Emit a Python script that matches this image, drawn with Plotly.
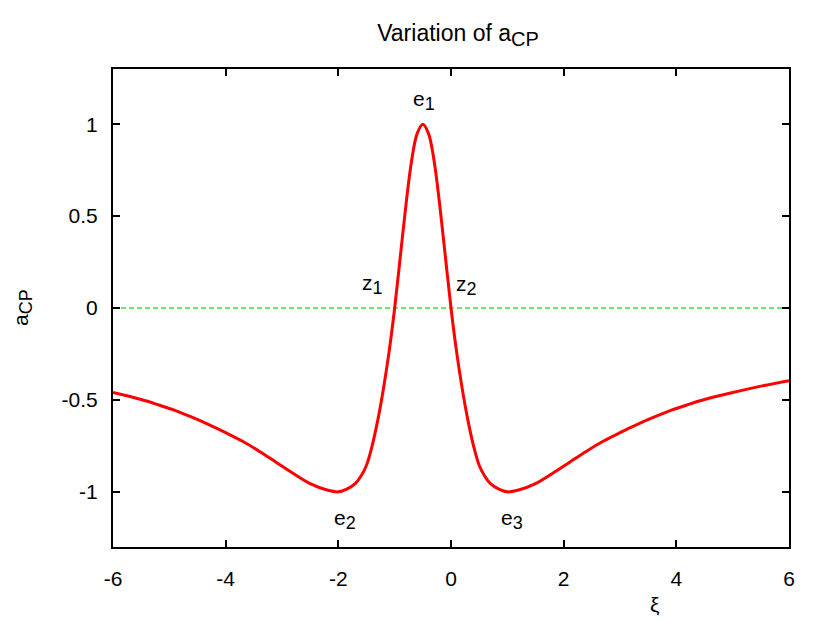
import plotly.graph_objects as go

# values
xi = [-6.0, -5.5, -5.2, -4.9, -4.6, -4.3, -4.0, -3.7, -3.4, -3.1, -2.8, -2.5,
      -2.2, -2.0, -1.85, -1.7, -1.6, -1.5, -1.4, -1.3, -1.2, -1.1, -1.0,
      -0.9, -0.8, -0.7, -0.6, -0.5,
      -0.4, -0.3, -0.2, -0.1, 0.0, 0.1, 0.2, 0.3, 0.4, 0.5, 0.6, 0.7, 0.85, 1.0,
      1.2, 1.5, 1.8, 2.1, 2.4, 2.7, 3.0, 3.3, 3.6, 3.9, 4.2, 4.5, 5.0, 5.5, 6.0]
a_cp = [-0.46, -0.498, -0.526, -0.557, -0.594, -0.634, -0.678, -0.725, -0.78, -0.84, -0.90, -0.955,
        -0.99, -1.0, -0.985, -0.955, -0.915, -0.855, -0.75, -0.61, -0.44, -0.24, 0.0,
        0.28, 0.56, 0.80, 0.95, 1.0,
        0.95, 0.80, 0.56, 0.28, 0.0, -0.24, -0.44, -0.61, -0.75, -0.855, -0.915, -0.955, -0.985, -1.0,
        -0.99, -0.955, -0.90, -0.84, -0.78, -0.725, -0.678, -0.634, -0.594, -0.557, -0.526, -0.498,
        -0.46, -0.425, -0.395]

zero_x = [-6, 6]
zero_y = [0, 0]

x_ticks = [-6, -4, -2, 0, 2, 4, 6]
x_labels = ["-6", "-4", "-2", "0", "2", "4", "6"]
y_ticks = [-1, -0.5, 0, 0.5, 1]
y_labels = ["-1", "-0.5", "0", "0.5", "1"]

# point labels: letter, index, x, y
pt_base = ["e", "e", "e", "z", "z"]
pt_idx = ["1", "2", "3", "1", "2"]
pt_x = [-0.48, -1.88, 1.08, -1.40, 0.27]
pt_y = [1.13, -1.15, -1.15, 0.13, 0.12]

fnt = "Liberation Sans, Arial, sans-serif"
fs = 21


def subtxt(base, sub, size):
    return base + "<sub><span style='font-size:%dpx'>%s</span></sub>" % (size, sub)


fig = go.Figure()
fig.add_trace(go.Scatter(x=zero_x, y=zero_y, mode='lines',
                         line=dict(color='#3fe03f', width=1.5, dash='5px,3px'),
                         showlegend=False, hoverinfo='skip'))
fig.add_trace(go.Scatter(x=xi, y=a_cp, mode='lines',
                         line=dict(color='#ff0000', width=3, shape='spline', smoothing=1),
                         showlegend=False))

for b, s, px, py in zip(pt_base, pt_idx, pt_x, pt_y):
    fig.add_annotation(x=px, y=py, xref='x', yref='y', text=subtxt(b, s, 18), showarrow=False,
                       font=dict(size=fs, color='black', family=fnt))

# axis titles (page is drawn 8px in from the window corner)
fig.add_annotation(x=(14 - 105) / 676, xref='paper', y=0.5, yref='paper', text=subtxt("a", "CP", 18),
                   showarrow=False, textangle=-90, xanchor='center', yanchor='middle',
                   font=dict(size=fs, color='black', family=fnt))
fig.add_annotation(x=3.62, xref='x', y=-0.121, yref='paper', text="ξ",
                   showarrow=False, xanchor='center', yanchor='middle',
                   font=dict(size=fs, color='black', family=fnt))

axis_common = dict(showline=True, linecolor='black', linewidth=2, mirror='allticks',
                   ticks='inside', ticklen=7, tickwidth=1.5, tickcolor='black',
                   showgrid=False, zeroline=False,
                   tickfont=dict(size=fs, color='black', family=fnt))

fig.update_xaxes(range=[-6, 6], tickvals=x_ticks, ticktext=x_labels,
                 ticklabelstandoff=12, **axis_common)
fig.update_yaxes(range=[-1.3, 1.3], tickvals=y_ticks, ticktext=y_labels,
                 ticklabelstandoff=9, **axis_common)

fig.update_layout(
    width=822, height=613,
    margin=dict(l=105, r=41, t=61, b=74),
    paper_bgcolor='white', plot_bgcolor='white',
    title=dict(text=subtxt("Variation of a", "CP", 20),
               x=450 / 822, xanchor='center',
               y=1 - 25 / 613, yref='container', yanchor='middle',
               font=dict(size=23, color='black', family=fnt)),
    showlegend=False,
)

fig.write_html("out.html")
